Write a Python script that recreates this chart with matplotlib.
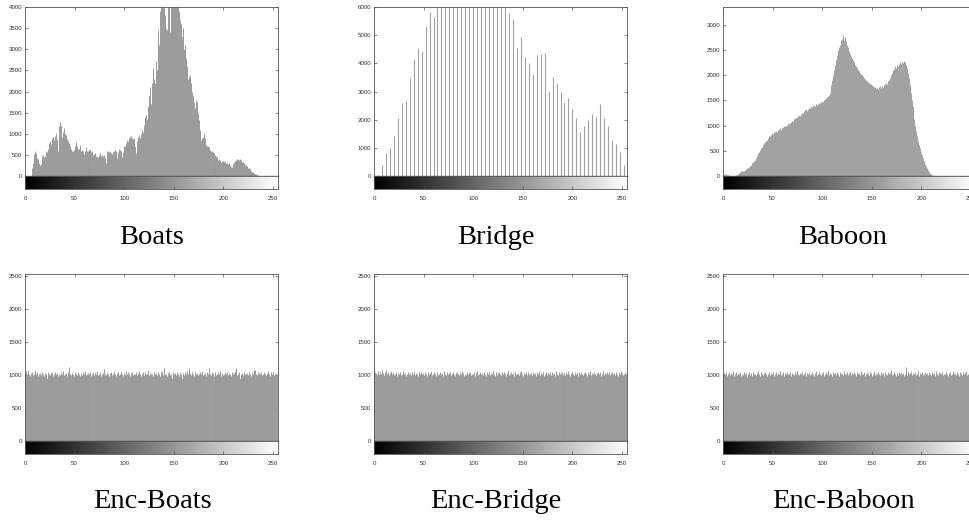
import numpy as np
import matplotlib
matplotlib.use("Agg")
import matplotlib.pyplot as plt

# ---------------------------------------------------------------- data
gray_levels = np.arange(256)

boats_counts = [
    0, 0, 0, 0, 0, 0, 0, 180, 300, 520, 580, 540, 420, 400, 300, 260,
    280, 480, 500, 440, 470, 580, 560, 650, 780, 820, 760, 900, 920, 860, 950, 1010,
    850, 600, 1180, 1270, 1200, 930, 1050, 1130, 1000, 970, 880, 840, 770, 700, 650, 600,
    580, 620, 700, 810, 720, 650, 640, 730, 600, 620, 580, 520, 600, 690, 580, 560,
    580, 620, 650, 560, 580, 500, 520, 540, 470, 460, 440, 500, 540, 480, 500, 470,
    500, 420, 300, 580, 600, 560, 580, 540, 520, 560, 600, 620, 580, 420, 560, 640,
    620, 600, 460, 560, 700, 720, 780, 850, 820, 900, 930, 950, 900, 880, 890, 700,
    550, 820, 930, 960, 900, 1000, 1100, 1050, 1200, 1400, 1450, 1350, 1650, 1900, 2100, 1700,
    2200, 2550, 2300, 2200, 2720, 2500, 3460, 3100, 3900, 4300, 4500, 4200, 4400, 3800, 3500, 3450,
    4100, 4400, 3400, 4200, 4600, 4500, 4700, 4300, 4100, 4500, 4300, 3900, 3700, 3600, 3300, 3500,
    3000, 3100, 2800, 2600, 2300, 2350, 2400, 2200, 2000, 1900, 1750, 1600, 1800, 1750, 1500, 1330,
    1100, 850, 900, 930, 1020, 900, 740, 720, 700, 680, 620, 600, 580, 560, 540, 500,
    460, 470, 440, 380, 400, 370, 340, 350, 360, 330, 350, 300, 300, 280, 300, 250,
    220, 210, 280, 340, 350, 380, 400, 410, 390, 400, 370, 340, 330, 300, 260, 250,
    240, 200, 180, 160, 130, 100, 90, 80, 50, 40, 30, 15, 10, 5, 0, 0,
    0, 0, 0, 0, 0, 0, 0, 0, 0, 0, 0, 0, 0, 0, 0, 0,
]

# the bridge image only uses every fourth grey level
bridge_levels = np.arange(0, 256, 4)
bridge_counts = [
    0, 50, 380, 830, 990, 1410, 2050, 2580, 2670, 3470, 4140, 4540, 4450, 5320, 5820, 5650,
    6400, 6900, 7300, 7600, 7800, 8000, 8100, 8000, 7900, 7700, 7500, 7200, 7000, 6800, 6600, 6400,
    6200, 6100, 5780, 5580, 4540, 4930, 4240, 4000, 3620, 4300, 4330, 4360, 3030, 3530, 3300, 2990,
    2640, 2770, 2380, 2070, 1570, 1780, 1980, 2190, 2090, 2540, 2070, 1770, 1270, 1150, 860, 390,
]

baboon_counts = [
    20, 30, 25, 30, 20, 15, 10, 5, 0, 0, 0, 0, 5, 10, 20, 40,
    60, 80, 90, 100, 90, 100, 110, 130, 150, 160, 180, 200, 220, 250, 270, 300,
    320, 350, 400, 450, 480, 520, 560, 580, 620, 650, 680, 700, 720, 760, 790, 800,
    820, 850, 840, 870, 880, 900, 880, 910, 930, 950, 920, 960, 980, 990, 1000, 970,
    1000, 1020, 1050, 1040, 1060, 1080, 1100, 1090, 1120, 1150, 1140, 1170, 1180, 1200, 1190, 1220,
    1250, 1240, 1280, 1300, 1330, 1290, 1320, 1350, 1340, 1380, 1360, 1390, 1400, 1380, 1420, 1410,
    1430, 1450, 1440, 1470, 1480, 1460, 1500, 1520, 1550, 1560, 1580, 1600, 1650, 1800, 1900, 2000,
    2100, 2200, 2300, 2400, 2500, 2550, 2600, 2700, 2720, 2790, 2700, 2750, 2680, 2600, 2550, 2480,
    2420, 2380, 2330, 2300, 2250, 2200, 2180, 2150, 2100, 2080, 2050, 2020, 2000, 1980, 1950, 1930,
    1900, 1880, 1870, 1850, 1830, 1820, 1800, 1790, 1770, 1760, 1740, 1750, 1730, 1760, 1780, 1750,
    1780, 1760, 1800, 1820, 1850, 1820, 1880, 1900, 1950, 2000, 2050, 2100, 2130, 2180, 2150, 2200,
    2180, 2230, 2250, 2220, 2260, 2240, 2280, 2250, 2200, 2150, 2050, 1950, 1800, 1650, 1500, 1380,
    1250, 1130, 1000, 900, 800, 700, 620, 550, 480, 420, 350, 300, 240, 190, 150, 110,
    80, 60, 40, 25, 15, 8, 4, 2, 0, 0, 0, 0, 0, 0, 0, 0,
    0, 0, 0, 0, 0, 0, 0, 0, 0, 0, 0, 0, 0, 0, 0, 0,
    0, 0, 0, 0, 0, 0, 0, 0, 0, 0, 0, 0, 0, 0, 0, 0,
]

enc_boats_counts = [
    1040, 1060, 1010, 1070, 1020, 990, 1030, 1050, 1000, 1020, 1080, 1010, 1040, 990, 1020, 1030,
    1000, 1050, 1020, 980, 1030, 1010, 960, 1040, 1020, 1000, 1030, 1050, 990, 1020, 1040, 1010,
    1030, 990, 1020, 1000, 1040, 1010, 1060, 1000, 1020, 1030, 990, 1050, 1120, 1010, 1000, 1030,
    1020, 980, 1040, 1010, 1000, 1050, 1020, 990, 1030, 1000, 1040, 1010, 1060, 1000, 1020, 990,
    1030, 1010, 1050, 990, 1020, 1040, 1000, 1030, 1010, 1060, 1000, 1020, 1040, 990, 1010, 1030,
    1090, 1020, 1000, 1040, 1010, 980, 1030, 1050, 1000, 1020, 1060, 1010, 990, 1030, 1040, 1000,
    1020, 1050, 1010, 990, 1030, 1000, 1060, 1020, 1040, 1010, 990, 1030, 1050, 1000, 1020, 1010,
    1040, 1000, 1030, 1060, 1010, 990, 1020, 1050, 1000, 1040, 1010, 1020, 1070, 1000, 1030, 1010,
    1020, 990, 1040, 1010, 1030, 1000, 1050, 1020, 990, 1040, 1060, 1000, 1100, 1020, 1010, 990,
    1030, 1050, 1000, 1020, 960, 1040, 1010, 1030, 1000, 1050, 1020, 990, 1040, 1010, 950, 1030,
    1000, 1040, 1020, 1060, 1010, 1100, 1030, 1000, 1040, 1020, 990, 1050, 1010, 1030, 1000, 1020,
    1040, 1010, 1060, 1000, 1020, 1030, 990, 1050, 1010, 1110, 1020, 1000, 1040, 1030, 990, 1010,
    1050, 1000, 1020, 1040, 1010, 1060, 990, 1030, 1000, 1020, 1050, 1010, 1040, 1000, 1030, 1020,
    990, 1040, 1010, 1030, 1060, 1100, 1000, 1020, 1050, 960, 1010, 1030, 1000, 1040, 1020, 1010,
    1030, 1000, 1050, 1020, 990, 1040, 1010, 1070, 1080, 1020, 1000, 1050, 1030, 1010, 1040, 1000,
    1020, 1050, 1010, 1000, 1030, 1060, 1020, 990, 1040, 1010, 1050, 1000, 1030, 1020, 1010, 1040,
]

enc_bridge_counts = [
    1010, 1050, 1030, 1000, 1060, 1020, 1040, 1010, 1070, 1030, 1000, 1050, 1080, 1020, 1040, 1000,
    1030, 1060, 1010, 1040, 1000, 1020, 1050, 990, 1030, 1010, 1040, 1000, 1020, 1060, 1010, 1030,
    990, 1020, 1050, 1010, 1030, 1000, 1040, 1020, 1060, 1000, 1030, 1010, 990, 1040, 1020, 1050,
    1010, 1030, 1000, 1050, 1020, 990, 1040, 1010, 1030, 1060, 1000, 1020, 1040, 1010, 990, 1030,
    1050, 1000, 1020, 1040, 1010, 1030, 990, 1060, 1020, 1000, 1040, 1010, 1030, 1050, 1000, 1020,
    1040, 1010, 990, 1030, 1050, 1020, 1000, 1040, 1010, 1060, 1030, 990, 1020, 1000, 1040, 1010,
    1030, 1050, 1000, 1020, 1010, 1040, 990, 1030, 1060, 1000, 1020, 1050, 1010, 1030, 1000, 1040,
    1020, 990, 1040, 1010, 1050, 1000, 1030, 1020, 1060, 1010, 990, 1040, 1000, 1030, 1050, 1010,
    1000, 1040, 1020, 1050, 1010, 990, 1030, 1060, 1000, 1020, 1040, 1010, 1030, 990, 1050, 1020,
    1010, 1030, 1000, 1040, 1060, 1020, 990, 1030, 1010, 1050, 1000, 1040, 1020, 1010, 1030, 1000,
    1050, 1010, 1030, 990, 1040, 1020, 1060, 1000, 1030, 1010, 1050, 990, 1020, 1040, 1000, 1030,
    1020, 1040, 1000, 1050, 1010, 1030, 990, 1060, 1020, 1000, 1040, 1010, 1030, 1050, 1000, 1020,
    1030, 1000, 1040, 1010, 1060, 1020, 990, 1030, 1050, 1010, 1000, 1040, 1020, 1030, 990, 1050,
    1010, 1040, 1020, 1000, 1030, 1050, 1010, 990, 1040, 1020, 1060, 1000, 1030, 1010, 1050, 1020,
    1000, 1030, 1050, 1010, 1040, 990, 1020, 1060, 1000, 1030, 1010, 1040, 1020, 1050, 1000, 1030,
    1040, 1010, 1030, 1000, 1050, 1020, 990, 1040, 1010, 1060, 1030, 1000, 1020, 1050, 1010, 1040,
]

enc_baboon_counts = [
    1000, 1030, 1010, 1040, 990, 1020, 1050, 1000, 1030, 1010, 1060, 990, 1020, 1040, 1000, 1030,
    1010, 1050, 990, 1020, 1000, 1040, 1010, 1030, 970, 1020, 1050, 1000, 1030, 990, 1040, 1010,
    1020, 1000, 1030, 1060, 1010, 990, 1040, 1020, 1000, 1030, 1050, 1010, 990, 1020, 1040, 1000,
    1030, 1010, 1050, 990, 1020, 1040, 1000, 1030, 1010, 1060, 1000, 1020, 1040, 990, 1030, 1010,
    1000, 1040, 1020, 1010, 1050, 990, 1030, 1020, 1000, 1040, 1010, 1060, 1020, 1000, 1030, 1010,
    1050, 1000, 1020, 1040, 990, 1030, 1010, 1050, 1000, 1020, 1040, 1010, 990, 1030, 1060, 1000,
    1020, 1040, 1010, 1000, 1030, 1050, 990, 1020, 1040, 1010, 1080, 1000, 1030, 1020, 990, 1040,
    1010, 1030, 1000, 1050, 1020, 990, 1040, 1010, 1030, 1000, 1060, 1020, 1010, 1040, 1000, 1030,
    1040, 1000, 1030, 1010, 1050, 1020, 990, 1040, 1010, 1030, 1000, 1060, 1020, 1010, 1040, 990,
    1020, 1050, 1010, 1000, 1040, 1030, 990, 1020, 1060, 1000, 1030, 1010, 1040, 1020, 1000, 1050,
    1010, 1030, 990, 1040, 1020, 1000, 1050, 1010, 1030, 1070, 1000, 1020, 1040, 1010, 990, 1030,
    1000, 1040, 1020, 1050, 1010, 1030, 990, 1020, 1120, 1000, 1040, 1010, 1030, 1050, 1000, 1020,
    1030, 1010, 1040, 1000, 1020, 1060, 990, 1030, 1010, 1050, 1000, 1020, 1040, 1010, 1030, 1000,
    1050, 1020, 1000, 1040, 1010, 1030, 990, 1060, 1020, 1000, 1040, 1030, 1010, 1050, 1000, 1020,
    1010, 1040, 1020, 990, 1030, 1050, 1000, 1020, 1060, 1010, 1030, 1000, 1040, 1020, 990, 1050,
    1020, 1000, 1040, 1010, 1030, 1060, 1000, 1020, 1050, 1010, 1040, 1000, 1030, 1020, 1050, 1010,
]

panel_titles = ["Boats", "Bridge", "Baboon", "Enc-Boats", "Enc-Bridge", "Enc-Baboon"]
x_ticks = [0, 50, 100, 150, 200, 250]

# (levels, counts, y upper limit, y tick step, bar color, bar width)
panels = [
    (gray_levels, boats_counts, 4000, 500, "#999999", 0.7),
    (bridge_levels, bridge_counts, 6000, 1000, "#a0a0a0", 0.8),
    (gray_levels, baboon_counts, 3350, 500, "#a0a0a0", 0.7),
    (gray_levels, enc_boats_counts, 2530, 500, "#999999", 0.7),
    (gray_levels, enc_bridge_counts, 2530, 500, "#999999", 0.7),
    (gray_levels, enc_baboon_counts, 2530, 500, "#999999", 0.7),
]

# ---------------------------------------------------------------- layout
W, H = 969, 520
fig = plt.figure(figsize=(W / 100, H / 100), dpi=100)
fig.patch.set_facecolor("white")


def rect(x0, y0, x1, y1):
    return [x0 / W, 1 - y1 / H, (x1 - x0) / W, (y1 - y0) / H]


col_x = [(25, 278), (374, 627), (723, 976)]
row_y = [(7, 176, 189), (274, 441, 454)]
title_x = [152, 496, 843]
title_y = [238, 501]

frame_color = "#555555"
text_color = "#333333"
tick_font = "Liberation Sans"
gradient = np.linspace(0, 1, 512).reshape(1, -1)

for i, (levels, counts, ytop, ystep, bar_color, bar_w) in enumerate(panels):
    r, c = divmod(i, 3)
    x0, x1 = col_x[c]
    yt, yz, yb = row_y[r]

    # histogram
    ax = fig.add_axes(rect(x0, yt, x1, yz))
    ax.vlines(levels, 0, counts, colors=bar_color, linewidth=bar_w)
    ax.set_xlim(0, 255)
    ax.set_ylim(0, ytop)
    ax.set_yticks(np.arange(0, ytop + 1, ystep))
    ax.set_xticks(x_ticks)
    ax.tick_params(axis="both", direction="in", length=2, width=0.5,
                   colors=frame_color, labelcolor=text_color, labelsize=4.4,
                   top=True, right=True, bottom=False,
                   labelbottom=False, pad=2)
    for lab in ax.get_yticklabels():
        lab.set_family(tick_font)
    for s in ax.spines.values():
        s.set_color(frame_color)
        s.set_linewidth(0.6)
    ax.spines["bottom"].set_color("#111111")
    ax.spines["bottom"].set_linewidth(0.9)

    # grey-level colour bar
    cax = fig.add_axes(rect(x0, yz, x1, yb))
    cax.imshow(gradient, cmap="gray", aspect="auto", extent=[0, 255, 0, 1],
               interpolation="bilinear")
    cax.set_xlim(0, 255)
    cax.set_ylim(0, 1)
    cax.set_yticks([])
    cax.set_xticks(x_ticks)
    cax.tick_params(axis="x", direction="in", length=2, width=0.5,
                    colors=frame_color, labelcolor=text_color, labelsize=4.4,
                    pad=5)
    for lab in cax.get_xticklabels():
        lab.set_family(tick_font)
    for s in cax.spines.values():
        s.set_color(frame_color)
        s.set_linewidth(0.6)

    fig.text(title_x[c] / W, 1 - title_y[r] / H, panel_titles[i],
             ha="center", va="center", fontsize=20.5,
             family="Liberation Serif", color="black")

fig.savefig("out.png", dpi=100, facecolor="white")
